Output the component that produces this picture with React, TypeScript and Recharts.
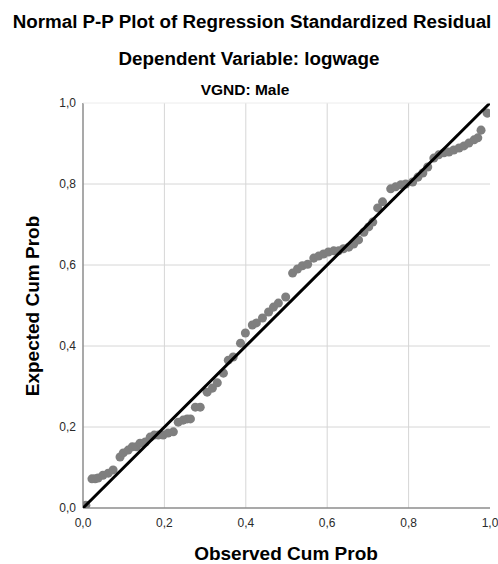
import React from 'react';
import { ScatterChart, Scatter, XAxis, YAxis, CartesianGrid, ZAxis } from 'recharts';

const observedCumProb = [
  0.007, 0.022, 0.030, 0.037, 0.049, 0.062, 0.074, 0.091, 0.099, 0.111,
  0.121, 0.131, 0.140, 0.153, 0.165, 0.175, 0.185, 0.197, 0.209, 0.222,
  0.234, 0.246, 0.256, 0.264, 0.276, 0.288, 0.305, 0.318, 0.330, 0.345,
  0.357, 0.369, 0.387, 0.399, 0.416, 0.426, 0.441, 0.456, 0.468, 0.480,
  0.498, 0.515, 0.527, 0.539, 0.552, 0.567, 0.579, 0.591, 0.603, 0.616,
  0.628, 0.640, 0.653, 0.665, 0.677, 0.690, 0.702, 0.712, 0.724, 0.736,
  0.756, 0.768, 0.781, 0.793, 0.810, 0.823, 0.835, 0.847, 0.862, 0.874,
  0.887, 0.899, 0.911, 0.924, 0.936, 0.948, 0.961, 0.970, 0.978, 0.993,
];

const expectedCumProb = [
  0.007, 0.072, 0.072, 0.074, 0.081, 0.086, 0.094, 0.126, 0.136, 0.143,
  0.151, 0.151, 0.160, 0.163, 0.175, 0.180, 0.180, 0.180, 0.185, 0.188,
  0.212, 0.217, 0.220, 0.220, 0.249, 0.249, 0.286, 0.296, 0.309, 0.333,
  0.365, 0.373, 0.407, 0.432, 0.452, 0.457, 0.469, 0.484, 0.496, 0.506,
  0.521, 0.580, 0.590, 0.598, 0.602, 0.617, 0.622, 0.627, 0.632, 0.635,
  0.635, 0.640, 0.644, 0.652, 0.662, 0.681, 0.694, 0.706, 0.741, 0.756,
  0.788, 0.793, 0.798, 0.800, 0.805, 0.817, 0.827, 0.842, 0.864, 0.872,
  0.877, 0.879, 0.884, 0.889, 0.894, 0.901, 0.909, 0.914, 0.933, 0.975,
];

const tickValues = [0, 0.2, 0.4, 0.6, 0.8, 1.0];
const tickLabels = ['0,0', '0,2', '0,4', '0,6', '0,8', '1,0'];
const gridValues = [0.2, 0.4, 0.6, 0.8];
const diagonal = [{ x: 0, y: 0 }, { x: 1, y: 1 }];

const title = 'Normal P-P Plot of Regression Standardized Residual';
const subtitle = 'Dependent Variable: logwage';
const panelTitle = 'VGND: Male';
const xLabel = 'Observed Cum Prob';
const yLabel = 'Expected Cum Prob';

const points = observedCumProb.map((x, i) => ({ x, y: expectedCumProb[i] }));

const fmt = (v: number) => {
  const idx = tickValues.findIndex((t) => Math.abs(t - v) < 1e-9);
  return idx >= 0 ? tickLabels[idx] : String(v);
};

const FONT = '"Liberation Sans", Arial, sans-serif';

export default function App() {
  return (
    <div style={{ position: 'absolute', left: 0, top: 0, width: 498, height: 564, background: '#fff' }}>
      <ScatterChart width={498} height={564} margin={{ top: 103, right: 8, bottom: 0, left: 0 }}>
        <CartesianGrid
          stroke="#d6d6d6"
          strokeWidth={1}
          horizontalValues={gridValues}
          verticalValues={gridValues}
        />
        <XAxis
          type="number"
          dataKey="x"
          domain={[0, 1]}
          ticks={tickValues}
          tickFormatter={fmt}
          height={56}
          axisLine={{ stroke: '#8c8c8c', strokeWidth: 1.5 }}
          tickLine={false}
          tickSize={6}
          tickMargin={4}
          tick={{ fontSize: 12, fill: '#2a2a2a', fontFamily: FONT }}
          allowDataOverflow
        />
        <YAxis
          type="number"
          dataKey="y"
          domain={[0, 1]}
          ticks={tickValues}
          tickFormatter={fmt}
          width={83}
          axisLine={{ stroke: '#8c8c8c', strokeWidth: 1.5 }}
          tickLine={false}
          tickSize={5}
          tickMargin={2}
          tick={{ fontSize: 12, fill: '#2a2a2a', fontFamily: FONT }}
          allowDataOverflow
        />
        <ZAxis range={[64, 64]} />
        <Scatter data={points} fill="#7f7f7f" isAnimationActive={false} />
        <Scatter
          data={diagonal}
          line={{ stroke: '#000', strokeWidth: 3 }}
          shape={() => <g />}
          isAnimationActive={false}
        />
      </ScatterChart>
      <svg
        width={498}
        height={564}
        style={{ position: 'absolute', left: 0, top: 0, pointerEvents: 'none' }}
      >
        <line x1={83} y1={103} x2={490} y2={103} stroke="#ececec" strokeWidth={1} />
        <text x={252} y={28} textAnchor="middle" fontFamily={FONT} fontWeight="bold" fontSize={18.8} fill="#000">
          {title}
        </text>
        <text x={249} y={65} textAnchor="middle" fontFamily={FONT} fontWeight="bold" fontSize={18.8} fill="#000">
          {subtitle}
        </text>
        <text x={245} y={95} textAnchor="middle" fontFamily={FONT} fontWeight="bold" fontSize={15.5} fill="#000">
          {panelTitle}
        </text>
        <text x={286} y={560} textAnchor="middle" fontFamily={FONT} fontWeight="bold" fontSize={19} fill="#000">
          {xLabel}
        </text>
        <text
          x={39}
          y={306}
          textAnchor="middle"
          fontFamily={FONT}
          fontWeight="bold"
          fontSize={19}
          fill="#000"
          transform="rotate(-90 39 306)"
        >
          {yLabel}
        </text>
      </svg>
    </div>
  );
}
